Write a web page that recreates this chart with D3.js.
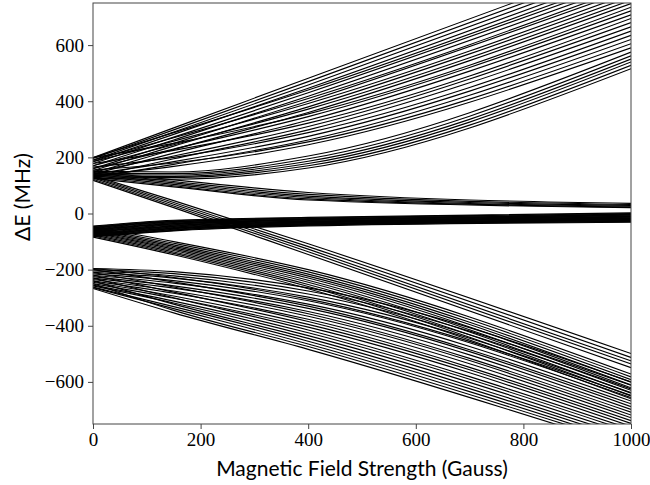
<!DOCTYPE html>
<html>
<head>
<meta charset="utf-8">
<script src="https://cdnjs.cloudflare.com/ajax/libs/d3/7.8.5/d3.min.js"></script>
<style>
  body { margin: 0; background: #fff; }
</style>
</head>
<body>
<script>
var fields = [0, 150, 400, 1000];

// energy levels in MHz at those fields
var upperFan = [
  [199, 305, 482, 905], [196, 298, 470, 890], [190, 290, 458, 875], [185, 282, 446, 862],
  [199, 288, 440, 848], [178, 272, 430, 835], [170, 262, 418, 822], [190, 270, 410, 810],
  [160, 250, 400, 798], [185, 258, 392, 785], [153, 240, 380, 772], [170, 245, 372, 760],
  [145, 228, 360, 748], [199, 250, 355, 735], [160, 230, 345, 722], [140, 215, 332, 708],
  [178, 225, 322, 695], [150, 205, 310, 680], [130, 195, 298, 665], [165, 200, 288, 650],
  [140, 185, 275, 635], [128, 175, 262, 620], [155, 180, 255, 605], [135, 168, 245, 590]
];
var risingBranch = [
  [150, 148, 205, 575], [145, 142, 195, 562], [140, 137, 186, 550],
  [135, 132, 178, 540], [130, 128, 170, 528], [125, 122, 162, 516]
];
var upperFlat = [
  [150, 120, 75, 36], [145, 114, 68, 32], [140, 109, 62, 29],
  [135, 104, 57, 26], [130, 99, 52, 23], [125, 95, 48, 21]
];
var centralBand = [
  [-45, -24, -14, 2], [-47, -26, -16, 0], [-49, -28, -18, -2], [-51, -30, -20, -4],
  [-53, -32, -22, -6], [-55, -34, -23, -8], [-57, -36, -25, -10], [-59, -38, -27, -12],
  [-61, -40, -28, -13], [-63, -42, -30, -15], [-65, -44, -31, -17], [-67, -46, -33, -18],
  [-69, -48, -34, -20], [-71, -50, -36, -22], [-73, -52, -37, -23], [-75, -54, -39, -25],
  [-77, -56, -40, -26], [-79, -58, -41, -28], [-81, -60, -42, -29], [-83, -62, -44, -31]
];
var crossingDown = [
  [135, 46, -108, -499], [131, 39, -118, -513], [127, 33, -127, -525],
  [122, 27, -136, -536], [118, 21, -146, -549]
];
var middleDown = [
  [-48, -100, -200, -572], [-52, -106, -208, -582], [-56, -112, -216, -592],
  [-60, -117, -223, -601], [-64, -122, -230, -611], [-68, -127, -238, -621],
  [-72, -132, -245, -630], [-76, -137, -253, -640], [-80, -142, -260, -650],
  [-84, -147, -268, -660]
];
var lowerFan = [
  [-196, -207, -265, -600], [-200, -214, -276, -612], [-205, -222, -287, -625],
  [-210, -230, -298, -638], [-196, -228, -305, -648], [-215, -239, -311, -656],
  [-220, -248, -323, -668], [-200, -244, -330, -678], [-225, -258, -338, -688],
  [-230, -266, -349, -698], [-210, -262, -357, -708], [-235, -276, -366, -718],
  [-240, -284, -377, -728], [-220, -280, -385, -738], [-245, -294, -395, -748],
  [-250, -302, -405, -758], [-230, -300, -415, -768], [-255, -312, -425, -778],
  [-258, -319, -435, -788], [-240, -323, -445, -798], [-262, -332, -455, -808],
  [-264, -339, -465, -818], [-250, -345, -474, -826], [-267, -354, -484, -836]
];

var xTicks = [0, 200, 400, 600, 800, 1000];
var yTicks = [-600, -400, -200, 0, 200, 400, 600];

var W = 650, H = 485,
    m = { left: 93, right: 19, top: 3, bottom: 61 };

var svg = d3.select("body").append("svg")
  .attr("width", W).attr("height", H);

var x = d3.scaleLinear().domain([0, 1000]).range([m.left, W - m.right]);
var y = d3.scaleLinear().domain([-750, 750]).range([H - m.bottom, m.top]);

svg.append("clipPath").attr("id", "plot")
  .append("rect")
  .attr("x", x(0)).attr("y", y(750))
  .attr("width", x(1000) - x(0)).attr("height", y(-750) - y(750));

var line = d3.line()
  .x(function(d, i) { return x(fields[i]); })
  .y(function(d) { return y(d); })
  .curve(d3.curveMonotoneX);

var levels = [].concat(upperFan, risingBranch, upperFlat, centralBand,
                       crossingDown, middleDown, lowerFan);

svg.append("g").attr("clip-path", "url(#plot)")
  .selectAll("path")
  .data(levels)
  .enter().append("path")
  .attr("d", line)
  .attr("fill", "none")
  .attr("stroke", "#000")
  .attr("stroke-width", 1.15);

var serif = "'Liberation Serif', 'Times New Roman', 'DejaVu Serif', serif";

var xAxis = svg.append("g")
  .attr("transform", "translate(0," + y(-750) + ")")
  .call(d3.axisBottom(x).tickValues(xTicks).tickSize(5).tickPadding(4)
        .tickFormat(d3.format("d")));

var yAxis = svg.append("g")
  .attr("transform", "translate(" + x(0) + ",0)")
  .call(d3.axisLeft(y).tickValues(yTicks).tickSize(5).tickPadding(4)
        .tickFormat(function(d) { return d < 0 ? "\u2212" + (-d) : d; }));

[xAxis, yAxis].forEach(function(a) {
  a.attr("font-family", serif).attr("font-size", 19);
  a.select(".domain").remove();
  a.selectAll(".tick line").attr("stroke", "#444").attr("stroke-width", 1);
  a.selectAll(".tick text")
    .attr("font-family", serif)
    .attr("font-size", 19)
    .attr("fill", "#000");
});

// frame
svg.append("rect")
  .attr("x", x(0)).attr("y", y(750))
  .attr("width", x(1000) - x(0)).attr("height", y(-750) - y(750))
  .attr("fill", "none").attr("stroke", "#444").attr("stroke-width", 1);

svg.append("text")
  .attr("x", (x(0) + x(1000)) / 2).attr("y", 476)
  .attr("text-anchor", "middle")
  .attr("font-family", "Lato, 'Open Sans', sans-serif")
  .attr("font-size", 21)
  .text("Magnetic Field Strength (Gauss)");

svg.append("text")
  .attr("transform", "translate(30,197) rotate(-90)")
  .attr("text-anchor", "middle")
  .attr("font-family", "Lato, 'Open Sans', sans-serif")
  .attr("font-size", 21)
  .text("\u0394E (MHz)");
</script>
</body>
</html>
